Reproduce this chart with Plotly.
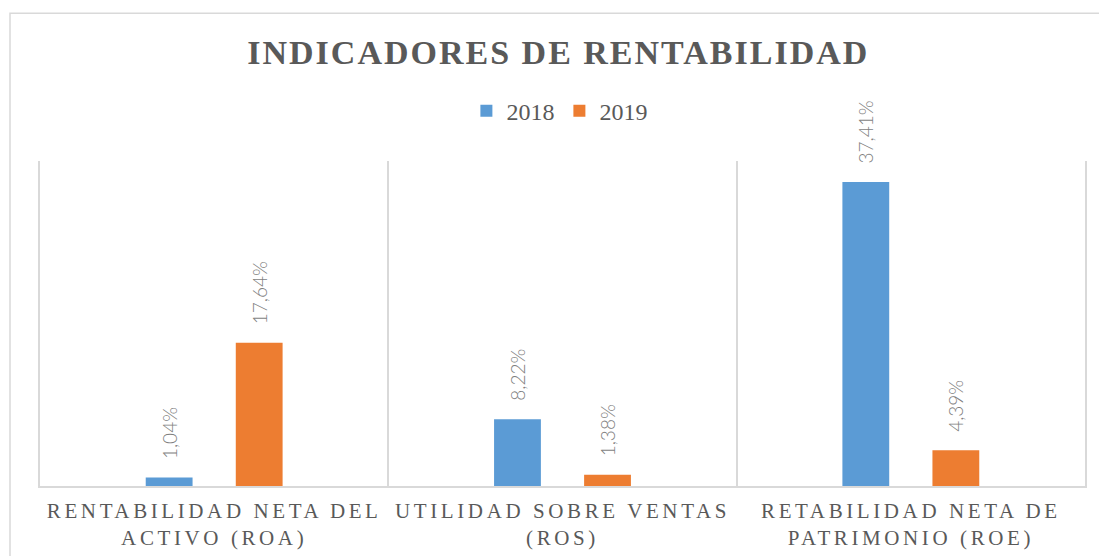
import plotly.graph_objects as go

categories = ["RENTABILIDAD NETA DEL<br>ACTIVO (ROA)",
              "UTILIDAD SOBRE VENTAS<br>(ROS)",
              "RETABILIDAD NETA DE<br>PATRIMONIO (ROE)"]
series_names = ["2018", "2019"]
values_2018 = [1.04, 8.22, 37.41]
values_2019 = [17.64, 1.38, 4.39]
colors = ["#5B9BD5", "#ED7D31"]

SERIF = "Liberation Serif, Times New Roman, serif"

def fmt(v):
    return "\u00a0\u00a0\u00a0" + f"{v:.2f}".replace(".", ",") + "%"

fig = go.Figure()
for name, vals, col in zip(series_names, [values_2018, values_2019], colors):
    fig.add_trace(go.Bar(
        x=categories, y=vals, name=name, marker=dict(color=col, line=dict(width=0)),
        text=[fmt(v) for v in vals], textposition="outside", textangle=-90,
        constraintext="none",
        textfont=dict(family="Lato, sans-serif", size=19, color="#7F7F7F", weight=300),
        cliponaxis=False, hoverinfo="skip",
    ))

fig.update_layout(
    width=1099, height=556,
    margin=dict(l=40, r=14, t=161, b=70, autoexpand=False),
    paper_bgcolor="white", plot_bgcolor="white",
    font=dict(family=SERIF, color="#595959"),
    barmode="group", bargap=0.483, bargroupgap=0.48,
    title=dict(text="<b>INDICADORES DE RENTABILIDAD</b>", x=0.508, xanchor="center",
               y=0.906, yanchor="middle",
               font=dict(family=SERIF, size=34, color="#595959")),
    legend=dict(orientation="h", x=0.509, xanchor="center", xref="container",
                y=0.80, yanchor="middle", yref="container",
                font=dict(family=SERIF, size=24, color="#595959"),
                itemwidth=30, traceorder="normal"),
    showlegend=True,
    xaxis=dict(type="category", tickson="boundaries", showgrid=True, gridcolor="#D9D9D9",
               gridwidth=1.5, showline=True, linecolor="#D9D9D9", linewidth=1.5,
               ticks="", automargin=False,
               tickfont=dict(family=SERIF, size=21, color="#595959"),
               ticklabelstandoff=5),
    yaxis=dict(range=[0, 40], showticklabels=False, showgrid=False, zeroline=False,
               automargin=False,
               showline=True, mirror=True, linecolor="#D9D9D9", linewidth=1.5),
    shapes=[dict(type="rect", xref="paper", yref="paper", x0=-0.0287, x1=1.03,
                 y0=-0.3, y1=1.455, line=dict(color="#D9D9D9", width=1.5), layer="below")],
)

post_script = """
document.body.style.margin = '0';
var gd = document.getElementById('{plot_id}');
function ls(){
  gd.querySelectorAll('.gtitle').forEach(function(t){t.style.letterSpacing='2px';});
  gd.querySelectorAll('.xtick text').forEach(function(t){t.style.letterSpacing='3.6px';});
}
ls();
gd.on('plotly_afterplot', ls);
"""

fig.write_html("out.html", post_script=post_script, config={"displayModeBar": False})
